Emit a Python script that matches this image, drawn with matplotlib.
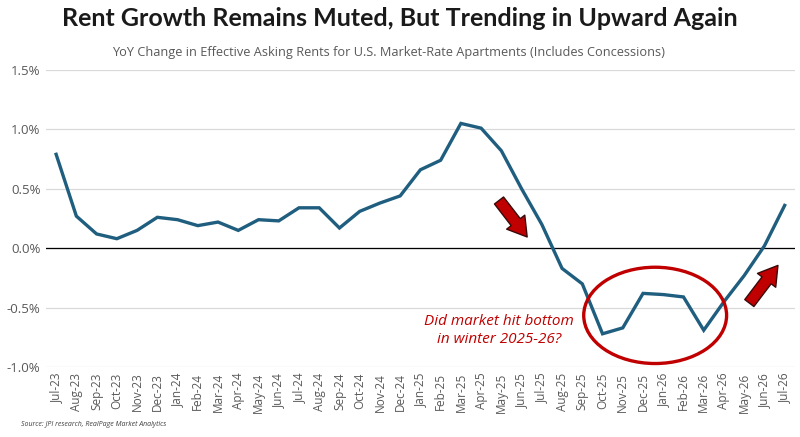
import matplotlib.pyplot as plt
from matplotlib.patches import Ellipse, FancyArrowPatch
from matplotlib.ticker import FuncFormatter

months = ['Jul-23', 'Aug-23', 'Sep-23', 'Oct-23', 'Nov-23', 'Dec-23',
          'Jan-24', 'Feb-24', 'Mar-24', 'Apr-24', 'May-24', 'Jun-24',
          'Jul-24', 'Aug-24', 'Sep-24', 'Oct-24', 'Nov-24', 'Dec-24',
          'Jan-25', 'Feb-25', 'Mar-25', 'Apr-25', 'May-25', 'Jun-25',
          'Jul-25', 'Aug-25', 'Sep-25', 'Oct-25', 'Nov-25', 'Dec-25',
          'Jan-26', 'Feb-26', 'Mar-26', 'Apr-26', 'May-26', 'Jun-26', 'Jul-26']
yoy = [0.79, 0.27, 0.12, 0.08, 0.15, 0.26,
       0.24, 0.19, 0.22, 0.15, 0.24, 0.23,
       0.34, 0.34, 0.17, 0.31, 0.38, 0.44,
       0.66, 0.74, 1.05, 1.01, 0.82, 0.50,
       0.20, -0.17, -0.30, -0.72, -0.67, -0.38,
       -0.39, -0.41, -0.69, -0.45, -0.23, 0.02, 0.36]
yticks = [-1.0, -0.5, 0.0, 0.5, 1.0, 1.5]

red = '#C00000'
gray = '#595959'

fig = plt.figure(figsize=(8, 4.37), dpi=100)
ax = fig.add_axes([0.0575, 0.160, 0.936, 0.680])

x = list(range(len(months)))
ax.plot(x, yoy, color='#1F5E7E', linewidth=2.4, solid_joinstyle='miter', zorder=3)
ax.axhline(0, color='black', linewidth=0.9, zorder=2)

ax.set_xlim(-0.5, len(months) - 0.5)
ax.set_ylim(-1.0, 1.5)
ax.set_yticks(yticks)
ax.yaxis.set_major_formatter(FuncFormatter(lambda v, p: f'{v:.1f}%'))
ax.set_xticks(x)
ax.set_xticklabels(months, rotation=90, fontsize=8.5, color=gray, family='Open Sans')
for lbl in ax.get_yticklabels():
    lbl.set_fontsize(9.5)
    lbl.set_color(gray)
    lbl.set_family('Open Sans')
ax.tick_params(length=0, pad=4)
ax.grid(axis='y', color='#D9D9D9', linewidth=0.9)
ax.set_axisbelow(True)
for s in ax.spines.values():
    s.set_visible(False)

# ellipse round the winter dip
ax.add_patch(Ellipse((29.6, -0.565), 7.06, 0.81, fill=False, edgecolor=red,
                     linewidth=2.4, zorder=4))

ax.text(21.9, -0.69, 'Did market hit bottom\nin winter 2025-26?', color=red,
        fontsize=11, style='italic', ha='center', va='center', family='Open Sans',
        linespacing=1.3)

# arrows
for start, end in [((21.8, 0.42), (23.36, 0.076)), ((34.17, -0.48), (35.75, -0.126))]:
    arr = FancyArrowPatch(start, end, arrowstyle='simple,head_width=1.1,head_length=0.9,tail_width=0.55',
                          mutation_scale=15, facecolor=red, edgecolor='#3A0A0A',
                          linewidth=1.0, zorder=5)
    ax.add_patch(arr)

fig.text(0.5, 0.957, 'Rent Growth Remains Muted, But Trending in Upward Again',
         ha='center', va='center', fontsize=18, fontweight='bold', family='Lato',
         color='#1A1A1A')
fig.text(0.486, 0.879, 'YoY Change in Effective Asking Rents for U.S. Market-Rate Apartments (Includes Concessions)',
         ha='center', va='center', fontsize=9.2, color=gray, family='Open Sans')
fig.text(0.026, 0.028, 'Source: JPI research, RealPage Market Analytics',
         ha='left', va='center', fontsize=5, style='italic', color='#404040', family='Open Sans')

fig.savefig('out.png', dpi=100)
